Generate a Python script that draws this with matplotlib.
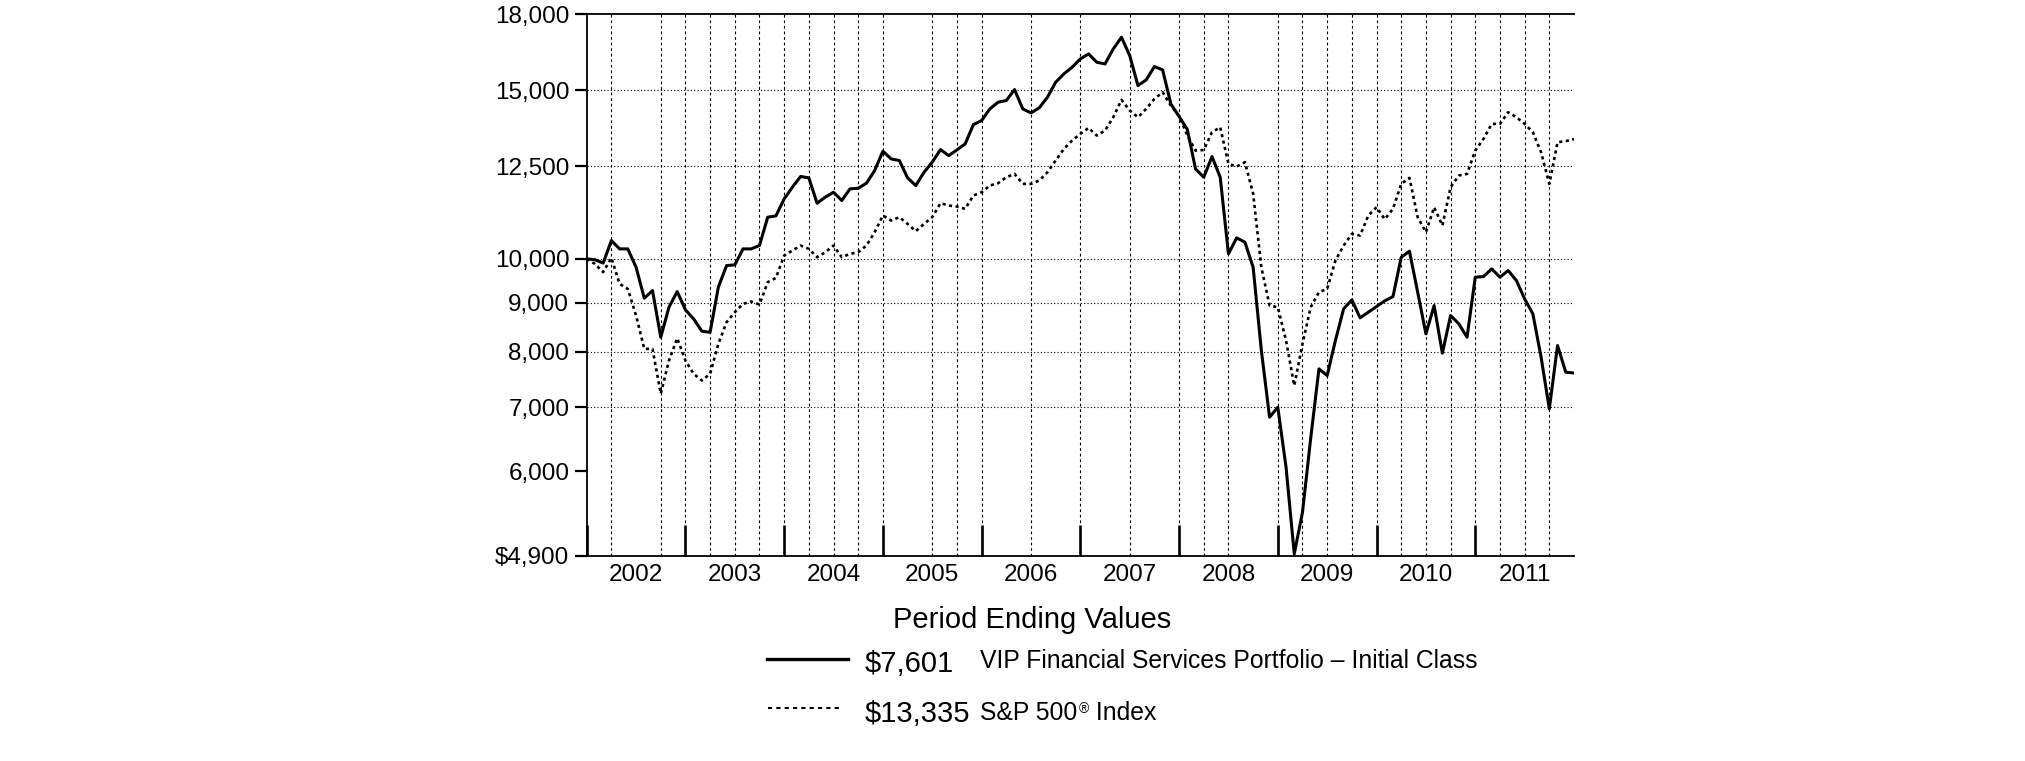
import matplotlib
matplotlib.use("Agg")
import matplotlib.pyplot as plt
from matplotlib.lines import Line2D
import numpy as np

plt.rcParams['font.family'] = ['Liberation Sans', 'DejaVu Sans']

# ---------------- data ----------------
years = ["2002", "2003", "2004", "2005", "2006", "2007", "2008", "2009", "2010", "2011"]

# month-end values, Dec 2001 .. Dec 2011 (121 points)
fund = [10000, 9980, 9900, 10450, 10243, 10243, 9802, 9098, 9267, 8284, 8904, 9245,
        8847, 8657, 8404, 8384, 9342, 9841, 9857, 10243, 10243, 10326, 11053, 11089,
        11550, 11880, 12190, 12150, 11430, 11600, 11737, 11505, 11832, 11851, 11994, 12365,
        12953, 12716, 12666, 12149, 11927, 12315, 12615, 13004, 12818, 12994, 13183, 13810,
        13943, 14340, 14572, 14630, 15022, 14340, 14202, 14375, 14748, 15289, 15599, 15850,
        16170, 16366, 16041, 15977, 16563, 17034, 16300, 15167, 15374, 15876, 15749, 14513,
        14080, 13650, 12414, 12168, 12788, 12168, 10121, 10518, 10409, 9802, 8023, 6835,
        7001, 6062, 4922, 5440, 6500, 7677, 7555, 8218, 8868, 9062, 8678, 8797,
        8918, 9040, 9135, 10040, 10186, 9230, 8351, 8939, 7972, 8727, 8554, 8284,
        9569, 9584, 9763, 9569, 9724, 9493, 9084, 8762, 7896, 6974, 8120, 7616,
        7601]

sp500 = [10000, 9880, 9685, 10024, 9417, 9304, 8727, 8055, 8055, 7230, 7833, 8264,
         7833, 7586, 7465, 7586, 8152, 8588, 8797, 8975, 9028, 8960, 9455, 9553,
         10080, 10202, 10326, 10243, 10040, 10161, 10326, 10040, 10121, 10161, 10326, 10662,
         11098, 10965, 11053, 10877, 10688, 10877, 11053, 11431, 11368, 11340, 11277, 11644,
         11737, 11927, 11994, 12168, 12266, 11975, 11975, 12071, 12315, 12666, 13025, 13290,
         13504, 13700, 13450, 13612, 14055, 14654, 14283, 14055, 14340, 14689, 14926, 14455,
         14100, 13450, 12973, 12990, 13558, 13722, 12565, 12484, 12615, 11700, 9800, 8939,
         8903, 8218, 7375, 8152, 8904, 9230, 9304, 9960, 10326, 10619, 10577, 11098,
         11322, 11000, 11277, 11975, 12149, 11053, 10662, 11322, 10834, 11879, 12217, 12266,
         12973, 13343, 13832, 13832, 14225, 14055, 13832, 13558, 12922, 11975, 13236, 13270,
         13335]

y_ticks = [4900, 6000, 7000, 8000, 9000, 10000, 12500, 15000, 18000]
y_tick_labels = ["$4,900", "6,000", "7,000", "8,000", "9,000", "10,000", "12,500", "15,000", "18,000"]
grid_values = [7000, 8000, 9000, 10000, 12500, 15000]

legend_title = "Period Ending Values"
fund_end = "$7,601"
fund_label = "VIP Financial Services Portfolio \u2013 Initial Class"
sp_end = "$13,335"
sp_label_a = "S&P 500"
sp_label_reg = "\u00ae"
sp_label_b = " Index"

# ---------------- figure ----------------
W, H = 2025, 761
fig = plt.figure(figsize=(W / 100, H / 100), dpi=100)
ax = fig.add_axes([586.7 / W, 1 - 555.7 / H, (1574 - 586.7) / W, (555.7 - 14.3) / H])

n_months = len(fund) - 1
months = np.arange(len(fund))

ax.set_yscale('log')
ax.set_ylim(4900, 18000)
ax.set_xlim(0, n_months)

# gridlines
for v in grid_values:
    ax.axhline(v, color='black', lw=0.8, linestyle=(0, (1, 2)), zorder=1)
skip_q = {2, 13, 17, 19, 21, 23, 27}
for q in range(1, n_months // 3):
    if q in skip_q:
        continue
    ax.axvline(q * 3, color='black', lw=0.8, linestyle=(0, (2.5, 2.5)), zorder=1)

# series
ax.plot(months, fund, color='black', lw=2.2, zorder=3, solid_joinstyle='round')
ax.plot(months, sp500, color='black', lw=1.9, linestyle=(0, (1.2, 1.3)), zorder=3)

# y axis
ax.yaxis.set_major_locator(matplotlib.ticker.FixedLocator(y_ticks))
ax.yaxis.set_minor_locator(matplotlib.ticker.NullLocator())
ax.set_yticklabels(y_tick_labels)
ax.tick_params(axis='y', which='major', direction='out', length=8.5, width=1.6,
               labelsize=17.5, pad=4, color='black')

# x axis
year_starts = [12 * i for i in range(len(years))]
year_mids = [12 * i + 6 for i in range(len(years))]
ax.set_xticks(year_starts)
ax.set_xticklabels([''] * len(year_starts))
ax.set_xticks(year_mids, minor=True)
ax.set_xticklabels(years, minor=True)
ax.tick_params(axis='x', which='major', direction='in', length=22, width=1.9, color='black')
ax.tick_params(axis='x', which='minor', length=0, labelsize=17.5, pad=6)

for s in ['left', 'top', 'bottom']:
    ax.spines[s].set_linewidth(1.3)
    ax.spines[s].set_color('black')
ax.spines['right'].set_visible(False)

# ---------------- legend block ----------------
fig.text(893 / W, 1 - 628 / H, legend_title, ha='left', va='baseline', fontsize=21)

y1 = 1 - 659.3 / H
y2 = 1 - 708.3 / H
fig.add_artist(Line2D([767 / W, 848 / W], [y1, y1], transform=fig.transFigure,
                      color='black', lw=2.4))
fig.add_artist(Line2D([768 / W, 842 / W], [y2, y2], transform=fig.transFigure,
                      color='black', lw=1.5, linestyle=(0, (2, 2))))

fig.text(865 / W, 1 - 671.7 / H, fund_end, ha='left', va='baseline', fontsize=21)
fig.text(980 / W, 1 - 668 / H, fund_label, ha='left', va='baseline', fontsize=17.8)

fig.text(865 / W, 1 - 721.7 / H, sp_end, ha='left', va='baseline', fontsize=21)
t1 = fig.text(980 / W, 1 - 720 / H, sp_label_a, ha='left', va='baseline', fontsize=17.8)
t2 = plt.annotate(sp_label_reg, xy=(1, 1), xycoords=t1, xytext=(1, -1), textcoords='offset points',
                  ha='left', va='top', fontsize=10, annotation_clip=False)
t3 = plt.annotate(sp_label_b, xy=(1, 0), xycoords=(t2, t1), ha='left', va='bottom',
                  fontsize=17.8, annotation_clip=False)

fig.savefig('out.png', dpi=100)
